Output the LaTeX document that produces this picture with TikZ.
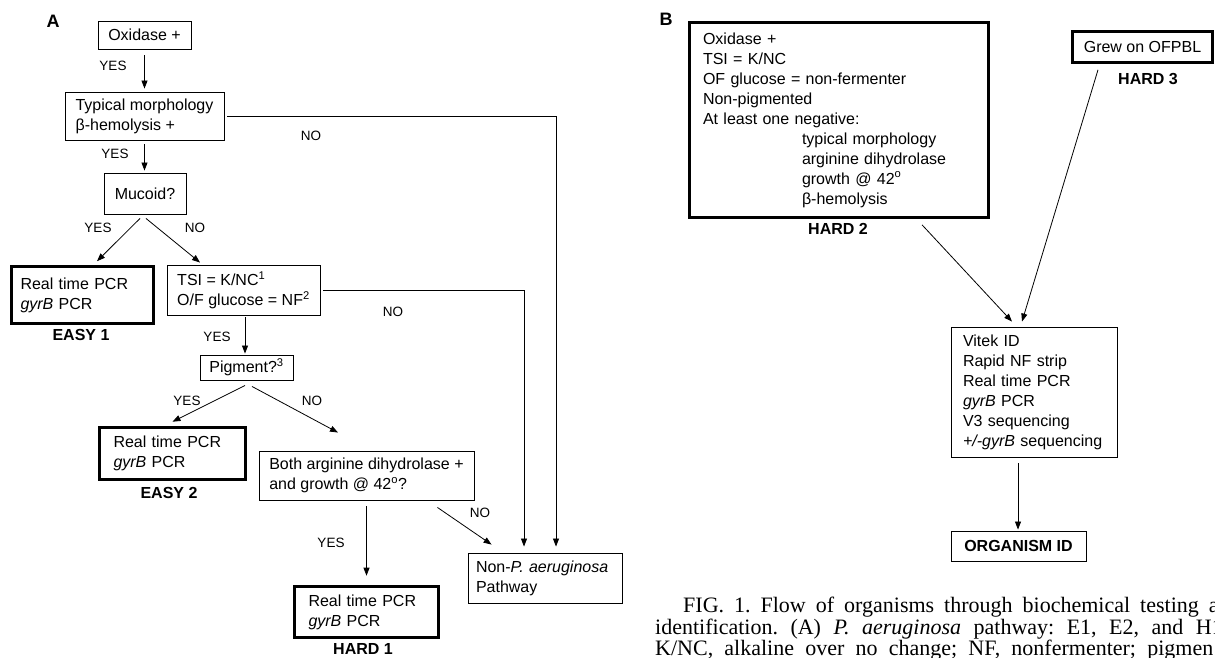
\documentclass[tikz,border=0pt]{standalone}
\usepackage{fontspec}
\setmainfont{Liberation Sans}
\newfontfamily\capfont{Liberation Serif}
\usetikzlibrary{arrows.meta}
\begin{document}
\begin{tikzpicture}[x=1pt,y=-1pt,
  box/.style={draw, line width=0.9pt, inner ysep=0pt, align=left, font=\fontsize{16}{20}\selectfont},
  cbox/.style={box, align=center, inner xsep=0pt},
  heavybox/.style={box, line width=3.6pt},
  lab/.style={font=\fontsize{13.5}{16}\selectfont, inner sep=0pt},
  blab/.style={font=\bfseries\fontsize{16}{20}\selectfont, inner sep=0pt},
  panel/.style={font=\bfseries\fontsize{18}{20}\selectfont, inner sep=0pt},
  captext/.style={font=\capfont\fontsize{22}{22}\selectfont, inner sep=0pt, anchor=base west},
  arr/.style={line width=0.8pt, -{Triangle[length=8pt,width=6pt]}},
]
\useasboundingbox (0,0) rectangle (1215,658);
\begin{scope}
\clip (0,0) rectangle (1215,658);

% ---------------- Panel A ----------------
\node[panel] (pa) at (53,21) {A};
\node[cbox, minimum width=93, minimum height=28] (ox) at (144.5,35) {Oxidase +};
\node[box, inner xsep=0pt, minimum width=159, minimum height=48] (tm) at (144.5,116) {Typical morphology\\β-hemolysis +};
\node[cbox, minimum width=82, minimum height=41] (mu) at (145,193.5) {Mucoid?};
\node[heavybox, text width=124, inner xsep=9, minimum height=57] (e1) at (82.5,295) {Real time PCR\\\textit{gyrB} PCR};
\node[blab] (le1) at (81,335) {EASY 1};
\node[box, inner xsep=0pt, minimum width=153, minimum height=50] (tsi) at (243.5,290) {TSI = K/NC\textsuperscript{1}\\O/F glucose = NF\textsuperscript{2}};
\node[cbox, minimum width=93, minimum height=25] (pig) at (246.5,367.5) {Pigment?\textsuperscript{3}};
\node[heavybox, text width=118, inner xsep=14, minimum height=52] (e2) at (172.5,453.5) {Real time PCR\\\textit{gyrB} PCR};
\node[blab] (le2) at (169,493) {EASY 2};
\node[box, inner xsep=0pt, minimum width=215, minimum height=49] (both) at (366.5,475.5) {Both arginine dihydrolase +\\and growth @ 42\textsuperscript{o}?};
\node[heavybox, text width=116, inner xsep=14, minimum height=51] (h1) at (366.5,612) {Real time PCR\\\textit{gyrB} PCR};
\node[blab] (lh1) at (363,649) {HARD 1};
\node[box, text width=138, inner xsep=8, minimum height=50] (np) at (545,578) {Non-\textit{P. aeruginosa}\\Pathway};

% labels
\node[lab] (y1) at (113,66) {YES};
\node[lab] (y2) at (115,154) {YES};
\node[lab] (n1) at (311,136) {NO};
\node[lab] (y3) at (98,228) {YES};
\node[lab] (n2) at (195,228) {NO};
\node[lab] (n3) at (393,312) {NO};
\node[lab] (y4) at (217,337) {YES};
\node[lab] (y5) at (187,401) {YES};
\node[lab] (n4) at (312,401) {NO};
\node[lab] (y6) at (331,543) {YES};
\node[lab] (n5) at (480,513) {NO};

% connectors
\draw[arr, shorten <=6pt, shorten >=3pt] (ox.south) -- (tm.north);
\draw[arr, shorten <=4pt, shorten >=2pt] (tm.south) -- (tm.south |- mu.north);
\draw[arr, shorten >=6pt] ([xshift=3pt]tm.east) -| ([xshift=11pt]np.north);
\draw[arr, shorten >=6pt] ([xshift=3pt]tsi.east) -| ([xshift=-21pt]np.north);
\draw[arr] ([xshift=-5pt,yshift=-4pt]mu.south) -- ([xshift=14.5pt,yshift=3.5pt]e1.north);
\draw[arr] ([xshift=1pt,yshift=-4pt]mu.south) -- ([xshift=-43.5pt,yshift=2pt]tsi.north);
\draw[arr] ([xshift=1.5pt,yshift=-2pt]tsi.south) -- ([xshift=-1.5pt,yshift=1pt]pig.north);
\draw[arr] ([xshift=-1.5pt,yshift=-5pt]pig.south) -- ([yshift=4pt]e2.north);
\draw[arr] ([xshift=5.5pt,yshift=-6pt]pig.south) -- ([xshift=-28.5pt,yshift=18pt]both.north);
\draw[arr, shorten <=6pt, shorten >=9pt] (both.south) -- (h1.north);
\draw[arr] ([xshift=-37pt,yshift=-7pt]both.south east) -- ([xshift=24pt,yshift=8pt]np.north west);

% ---------------- Panel B ----------------
\node[panel] (pb) at (666,19) {B};
\node[heavybox, text width=272, inner xsep=13.5, minimum height=195] (h2) at (839,120) {Oxidase +\\TSI = K/NC\\OF glucose = non-fermenter\\Non-pigmented\\At least one negative:\\\hspace*{99pt}typical morphology\\\hspace*{99pt}arginine dihydrolase\\\hspace*{99pt}growth @ 42\textsuperscript{o}\\\hspace*{99pt}β-hemolysis};
\node[blab] (lh2) at (838,229) {HARD 2};
\node[heavybox, align=center, inner xsep=0pt, minimum width=140, minimum height=31] (gr) at (1142.5,47) {Grew on OFPBL};
\node[blab] (lh3) at (1148,79) {HARD 3};
\node[box, text width=142, inner xsep=12, minimum height=130] (vt) at (1034,392) {Vitek ID\\Rapid NF strip\\Real time PCR\\\textit{gyrB} PCR\\V3 sequencing\\\textit{+/-gyrB} sequencing};
\node[cbox, minimum width=135, minimum height=30, font=\bfseries\fontsize{16}{20}\selectfont] (org) at (1018.5,546) {ORGANISM ID};

\draw[arr] ([xshift=83pt,yshift=-5.5pt]h2.south) -- ([xshift=-22pt,yshift=5pt]vt.north);
\draw[arr] ([xshift=-44.5pt,yshift=-5.5pt]gr.south) -- ([xshift=-12pt,yshift=5pt]vt.north);
\draw[arr] ([xshift=-16pt,yshift=-6pt]vt.south) -- ([xshift=-0.5pt,yshift=1pt]org.north);

% ---------------- Caption ----------------
\node[captext] (c1) at (683,612) {\frenchspacing\spaceskip=10pt FIG. 1. Flow of organisms through biochemical testing a};
\node[captext] (c2) at (655,634) {\frenchspacing\spaceskip=12.5pt identification. (A) \textit{P. aeruginosa} pathway: E1, E2, and H1};
\node[captext] (c3) at (655,655) {\frenchspacing\spaceskip=11.2pt K/NC, alkaline over no change; NF, nonfermenter; pigmen};
\end{scope}
\end{tikzpicture}
\end{document}
